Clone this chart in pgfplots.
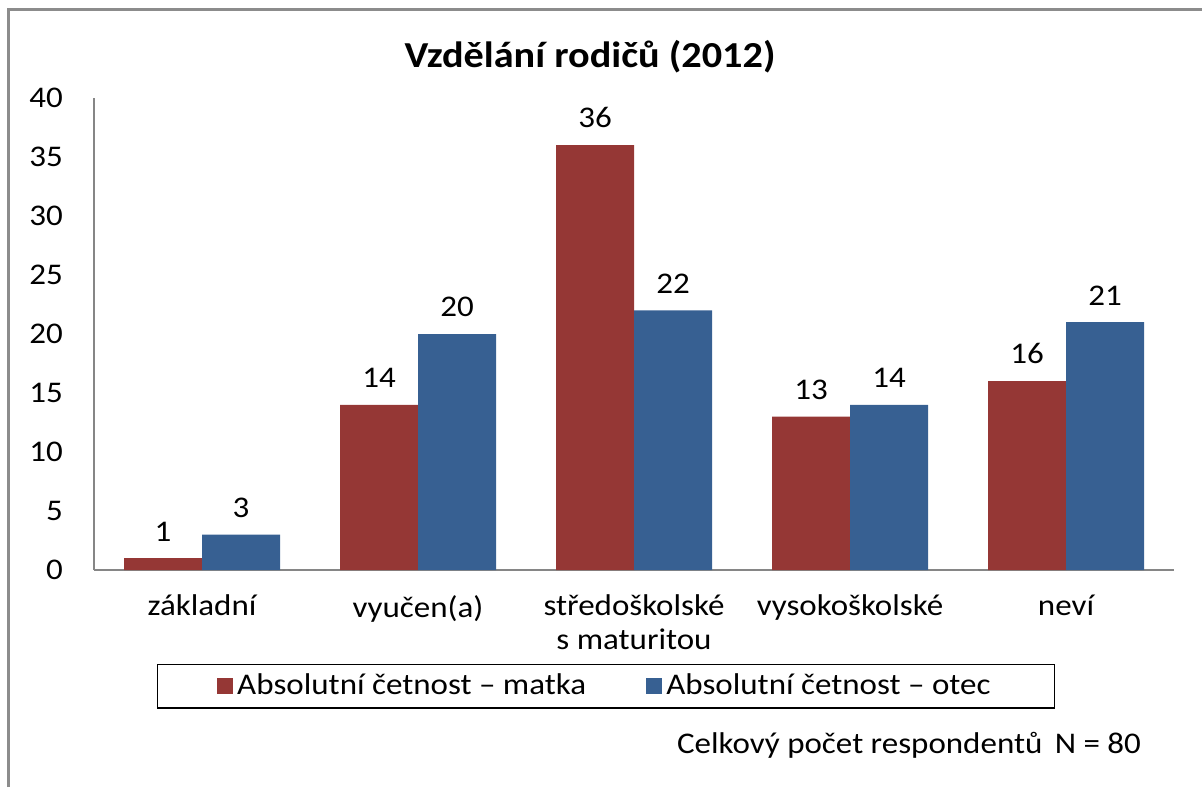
\documentclass[border=0pt]{standalone}
\usepackage{fontspec}
\setmainfont{Carlito}[FakeStretch=1.1]
\usepackage{pgfplots}
\pgfplotsset{compat=1.18}
\definecolor{matka}{HTML}{953735}
\definecolor{otec}{HTML}{376092}
\definecolor{axisgray}{HTML}{868686}
\definecolor{framegray}{HTML}{8C8C8C}
\begin{document}
\begin{tikzpicture}
\useasboundingbox (0,0) rectangle (601pt,393.5pt);
\draw[framegray, line width=1.5pt] (4pt,0) -- (4pt,388.5pt) -- (601pt,388.5pt);
\node[font=\fontsize{18.3}{21}\selectfont\bfseries] at (295pt,365pt) {Vzdělání rodičů (2012)};
\node[font=\fontsize{15}{17}\selectfont, anchor=base] at (454.5pt,17pt) {Celkový počet respondentů\, N = 80};
\begin{axis}[
  at={(47pt,108.5pt)}, anchor=south west,
  scale only axis, width=540pt, height=236pt,
  xmin=-0.5, xmax=4.5, ymin=0, ymax=40,
  enlargelimits=false,
  ybar=0pt, bar width=39pt,
  axis x line*=bottom, axis y line*=left,
  axis line style={axisgray, line width=0.7pt, -},
  xtick={0,1,2,3,4},
  xticklabels={základní, vyučen(a), {středoškolské\\s maturitou}, vysokoškolské, neví},
  xticklabel style={align=center, yshift=-9pt},
  ytick={0,5,...,40},
  yticklabel style={xshift=-12pt},
  major tick length=0pt,
  tick label style={font=\fontsize{15}{17}\selectfont, black},
  /pgf/number format/assume math mode=true,
  nodes near coords,
  every node near coord/.append style={font=\fontsize{15}{17}\selectfont, black, yshift=5pt},
  legend columns=2,
  legend style={at={(0.474,-0.2458)}, anchor=center, draw=black, line width=0.6pt,
    font=\fontsize{15}{17}\selectfont, inner xsep=30pt, inner ysep=3pt,
    /tikz/every even column/.append style={column sep=28pt}},
  legend image code/.code={\fill[#1] (0pt,-4pt) rectangle (8pt,4pt);},
]
\addplot[fill=matka, draw=none] coordinates {(0,1) (1,14) (2,36) (3,13) (4,16)};
\addplot[fill=otec, draw=none] coordinates {(0,3) (1,20) (2,22) (3,14) (4,21)};
\legend{Absolutní četnost -- matka, Absolutní četnost -- otec}
\end{axis}
\end{tikzpicture}
\end{document}
